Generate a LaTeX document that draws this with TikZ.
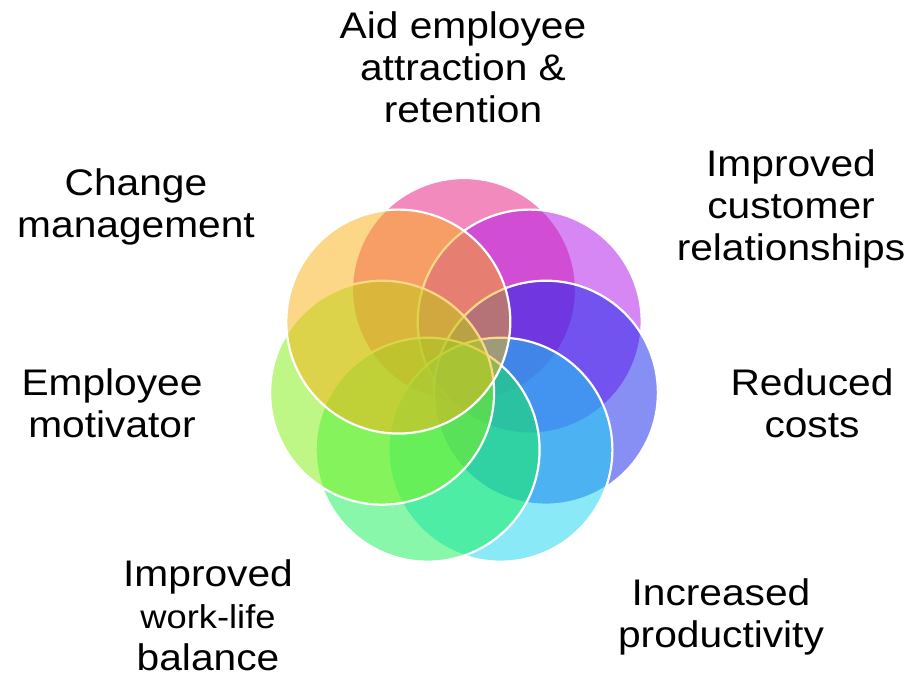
\documentclass[tikz,border=0pt]{standalone}
\usepackage{fontspec}
\setmainfont{Liberation Sans}
\newfontfamily\labfont[FakeStretch=1.1]{Liberation Sans}
\definecolor{cpink}{RGB}{233,23,125}
\definecolor{cpurple}{RGB}{177,17,233}
\definecolor{cblue}{RGB}{17,33,237}
\definecolor{ccyan}{RGB}{21,213,241}
\definecolor{cgreen}{RGB}{21,241,85}
\definecolor{clime}{RGB}{129,241,17}
\definecolor{cyellow}{RGB}{251,177,17}
\begin{document}
\begin{tikzpicture}[x=1pt,y=-1pt,
  petal/.style={fill opacity=0.5, draw=white, line width=2.2pt},
  lab/.style={anchor=base, align=center, inner sep=0pt, text=black,
    font=\labfont\fontsize{37}{42}\selectfont}]
\path[use as bounding box] (0,0) rectangle (912,676);
\fill[white] (0,0) rectangle (912,676);
% petals, drawn clockwise from the top; later ones lie above
\path[petal, fill=cpink]   (464.0,290.0) circle[radius=112];
\path[petal, fill=cpurple] (529.7,321.6) circle[radius=112];
\path[petal, fill=cblue]   (545.9,392.7) circle[radius=112];
\path[petal, fill=ccyan]   (500.4,449.7) circle[radius=112];
\path[petal, fill=cgreen]  (427.6,449.7) circle[radius=112];
\path[petal, fill=clime]   (382.1,392.7) circle[radius=112];
\path[petal, fill=cyellow] (398.3,321.6) circle[radius=112];
% labels (anchored at the baseline of their last line)
\node[lab] (aid) at (463,123) {Aid employee\\attraction \&\\retention};
\node[lab] (cust) at (791,260) {Improved\\customer\\relationships};
\node[lab] (chg) at (136,238) {Change\\management};
\node[lab] (emp) at (112,437) {Employee\\motivator};
\node[lab] (red) at (812,437) {Reduced\\costs};
\node[lab] (wlb) at (208,670) {Improved\\{\fontsize{33}{42}\selectfont work-life}\\balance};
\node[lab] (inc) at (721,647) {Increased\\productivity};
\end{tikzpicture}
\end{document}
